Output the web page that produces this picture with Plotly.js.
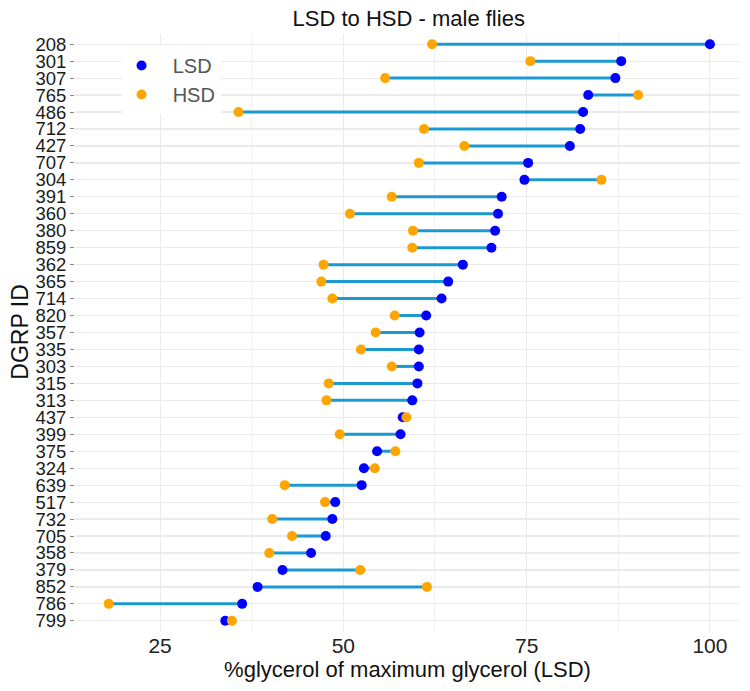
<!DOCTYPE html>
<html>
<head>
<meta charset="utf-8">
<script src="https://cdn.plot.ly/plotly-3.0.1.min.js"></script>
<style>html,body{margin:0;padding:0;background:#fff;}#chart{width:750px;height:691px;}</style>
</head>
<body>
<div id="chart"></div>
<script>
// Categories, top to bottom as shown
const ids = ["208","301","307","765","486","712","427","707","304","391","360","380","859","362","365","714","820","357","335","303","315","313","437","399","375","324","639","517","732","705","358","379","852","786","799"];
const lsd = [100.0,87.9,87.1,83.4,82.7,82.3,80.9,75.2,74.7,71.6,71.1,70.7,70.2,66.3,64.3,63.4,61.3,60.4,60.3,60.3,60.1,59.4,58.1,57.8,54.6,52.8,52.5,48.9,48.5,47.6,45.6,41.7,38.3,36.2,33.9];
const hsd = [62.1,75.5,55.7,90.2,35.7,61.0,66.5,60.3,85.2,56.6,50.9,59.5,59.4,47.3,47.0,48.5,57.0,54.4,52.4,56.6,48.0,47.7,58.6,49.5,57.1,54.3,42.0,47.5,40.3,43.0,39.9,52.3,61.4,18.0,34.8];
const xTicks = [25, 50, 75, 100];

const segX = [], segY = [];
ids.forEach((id, i) => { segX.push(hsd[i], lsd[i], null); segY.push(id, id, null); });

const font = "'Liberation Sans', Arial, sans-serif";
const traces = [
  {x: segX, y: segY, type: "scatter", mode: "lines", line: {color: "#1B9AD2", width: 3}, showlegend: false, hoverinfo: "skip"},
  {x: lsd, y: ids, type: "scatter", mode: "markers", name: "\u00a0\u00a0LSD", marker: {color: "#0000FF", size: 10}},
  {x: hsd, y: ids, type: "scatter", mode: "markers", name: "\u00a0\u00a0HSD", marker: {color: "#FFA500", size: 10}}
];

const layout = {
  width: 750, height: 691,
  margin: {l: 75, r: 10, t: 34, b: 60},
  paper_bgcolor: "#fff", plot_bgcolor: "#fff",
  font: {family: font, color: "#1a1a1a"},
  title: {text: "LSD to HSD - male flies", font: {family: font, size: 22, color: "#111"}, x: 0.545, xanchor: "center", y: 0.974, yanchor: "middle"},
  xaxis: {
    range: [13.4, 104.1], tickmode: "array", tickvals: xTicks, ticktext: xTicks.map(String),
    showgrid: true, gridcolor: "#EBEBEB", gridwidth: 1, zeroline: false, showline: false,
    ticks: "", tickfont: {family: font, size: 21, color: "#222"},
    minor: {tickvals: [12.5, 37.5, 62.5, 87.5], showgrid: true, gridcolor: "#F2F2F2", gridwidth: 1},
    title: {text: "%glycerol of maximum glycerol (LSD)", font: {family: font, size: 22, color: "#111"}, standoff: 2}
  },
  yaxis: {
    type: "category", categoryorder: "array", categoryarray: ids.slice().reverse(),
    tickmode: "array", tickvals: ids, ticktext: ids,
    range: [-0.6, ids.length - 0.4],
    showgrid: true, gridcolor: "#EBEBEB", gridwidth: 1.2, zeroline: false, showline: false,
    ticks: "outside", ticklen: 4, tickcolor: "#888", tickwidth: 1,
    tickfont: {family: font, size: 18.5, color: "#1a1a1a"},
    automargin: false
  },
  annotations: [{text: "DGRP ID", xref: "paper", yref: "paper", x: -0.084, y: 0.5,
    xanchor: "center", yanchor: "middle", textangle: -90, showarrow: false,
    font: {family: font, size: 23, color: "#111"}}],
  legend: {x: 0.07, y: 0.98, xanchor: "left", yanchor: "top", bgcolor: "#fff",
    font: {family: font, size: 20, color: "#555"}, itemwidth: 30, tracegroupgap: 0},
  showlegend: true
};

Plotly.newPlot("chart", traces, layout, {displayModeBar: false, staticPlot: true});
</script>
</body>
</html>
